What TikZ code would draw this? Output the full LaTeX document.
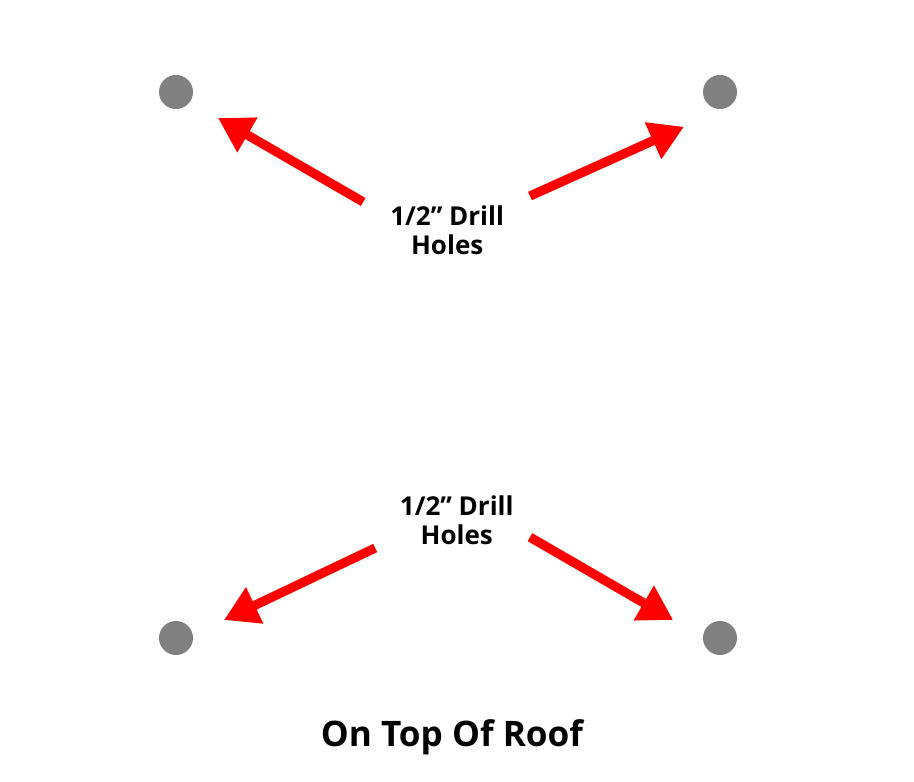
\documentclass[tikz,border=0pt]{standalone}
\usepackage{fontspec}
\setmainfont{Open Sans}
\usetikzlibrary{arrows.meta,
positioning}

\begin{document}
\begin{tikzpicture} [>={Triangle[length=0.85cm, width=0.95cm]},
    hole/.style={circle, fill=gray, minimum size=0.85cm, inner sep=0pt},
    pointer/.style={->, red, line width=0.23cm},
    label text/.style={align=center, font=\fontsize{18.5}{20.5}\selectfont\bfseries}]

  \useasboundingbox (0,0) rectangle (22.85,19.55);

  % drill holes
  \node [hole] (hole_tl) at (4.4, 17.25) {};
  \node [hole] (hole_tr) at (18.0, 17.25) {};
  \node [hole] (hole_bl) at (4.4, 3.6) {};
  \node [hole] (hole_br) at (18.0, 3.6) {};

  \node [label text] (top_lbl) at (11.18, 13.8) {1/2” Drill\\Holes};
  \node [label text] (bot_lbl) at (11.42, 6.55) {1/2” Drill\\Holes};

  \node [font=\fontsize{25}{30}\selectfont\bfseries] (title) at (11.3, 1.12) {On Top Of Roof};

  % arrow ends
  \coordinate (tl_tail) at (9.08, 14.5);
  \coordinate (tl_tip) at (5.45, 16.6);
  \coordinate (tr_tail) at (13.25, 14.65);
  \coordinate (tr_tip) at (17.1, 16.38);
  \coordinate (bl_tail) at (9.38, 5.85);
  \coordinate (bl_tip) at (5.6, 4.05);
  \coordinate (br_tail) at (13.25, 6.12);
  \coordinate (br_tip) at (16.83, 4.05);

  \draw [pointer] (tl_tail) -- (tl_tip);
  \draw [pointer] (tr_tail) -- (tr_tip);
  \draw [pointer] (bl_tail) -- (bl_tip);
  \draw [pointer] (br_tail) -- (br_tip);

\end{tikzpicture}
\end{document}
